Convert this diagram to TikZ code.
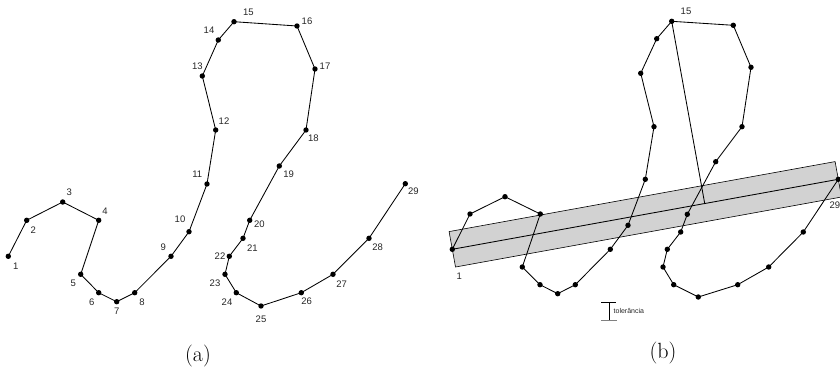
\documentclass[tikz,border=0pt]{standalone}
\usepackage{fontspec}
\newfontfamily\lblfont{Liberation Sans}
\usetikzlibrary{calc,backgrounds}
\begin{document}
\begin{tikzpicture}[x=1pt,y=-1pt,
  dot/.style={circle,fill=black,inner sep=0pt,minimum size=5.4pt},
  lbl/.style={font=\lblfont\fontsize{9.5}{11}\selectfont,inner sep=0pt,text=black!85},
  tol/.style={font=\lblfont\fontsize{7}{8}\selectfont,inner sep=0pt,text=black!85},
  poly/.style={line width=0.85pt,line join=round},
  capt/.style={font=\fontsize{22}{26}\selectfont,inner sep=0pt}]
\useasboundingbox (0,0) rectangle (840,372);
% ---------- (a) ----------
\foreach \i/\x/\y in {1/8.3/256.3,2/26.7/220.3,3/62.7/202,4/98.7/220.3,5/80.7/274.3,
  6/98.7/292.7,7/116.7/301.7,8/134.7/292.7,9/171/256.3,10/189/231.7,11/207/184,
  12/215.7/130,13/202.3/76,14/218.3/40,15/234/21.7,16/297/26,17/315/69,18/306/130,
  19/279.3/166,20/249.7/220.3,21/243/238.3,22/229.3/256.3,23/225/274.3,24/236.3/292.7,
  25/261/306,26/301.3/292.7,27/333/274.3,28/369/238.3,29/405.3/183.7}
  \node[dot] (a\i) at (\x,\y) {};
\foreach \i [remember=\i as \j (initially 1)] in {2,...,29}
  \draw[poly] (a\j.center) -- (a\i.center);
\foreach \i/\x/\y in {1/15.7/266,2/33.3/230,3/69.3/192.7,4/105/211,5/73.3/283.7,
  6/91.7/302,7/116.7/311,8/142/302,9/163.3/247.7,10/180/219.3,11/197.3/174.3,
  12/224/120.7,13/197.3/66.7,14/209/30.7,15/248.3/12.3,16/307/21.3,17/325/66.7,
  18/313.3/138.3,19/288.7/174.3,20/259.3/224.3,21/252.3/247.7,22/220/256.3,
  23/215/283.7,24/227/302,25/261/319.3,26/306.7/301.3,27/341.7/283.7,
  28/377.7/247.7,29/413.3/191}
  \node[lbl] (la\i) at (\x,\y) {\i};
% ---------- (b) ----------
\foreach \i/\x/\y in {1/452.3/249.3,2/470/214,3/505/196.7,4/540.3/214,5/522.3/267,
  6/540/284.7,7/557.7/293.7,8/575.3/284.7,9/610.3/249.3,10/628/225.3,11/645.3/179.3,
  12/654/126.7,13/640.7/73.3,14/656.7/38.7,15/671.7/21.3,16/733.3/25.3,17/751/67.3,
  18/742/126.7,19/715.7/161.7,20/687.3/214.3,21/680.7/232,22/667.3/249.3,
  23/663/267,24/673.7/284.7,25/698.3/297,26/737.7/284.7,27/768.7/267,
  28/803.3/232,29/838.3/179.3}
  \node[dot] (b\i) at (\x,\y) {};
\begin{scope}[on background layer]
  \filldraw[fill=gray!35,draw=black,line width=0.6pt]
    ($(b1)!18pt!90:(b29)$) -- ($(b29)!18pt!-90:(b1)$) --
    ($(b29)!18pt!90:(b1)$) -- ($(b1)!18pt!-90:(b29)$) -- cycle;
  \draw[poly] (b1.center) -- (b29.center);
  \coordinate (foot) at ($(b1)!(b15)!(b29)$);
  \draw[poly] (b15.center) -- (foot);
\end{scope}
\foreach \i [remember=\i as \j (initially 1)] in {2,...,29}
  \draw[poly] (b\j.center) -- (b\i.center);
\node[lbl] (lb1) at (459.3,276) {1};
\node[lbl] (lb15) at (686,11.7) {15};
\node[lbl,anchor=west] (lb29) at (829.5,205.7) {29};
% tolerance bar
\coordinate (tt) at (609,302.3);
\coordinate (tb) at (609,320.3);
\draw[line width=0.8pt] ($(tt)+(-8,0)$) -- ($(tt)+(7,0)$);
\draw[line width=0.8pt] (tt) -- (tb);
\draw[gray,line width=1.1pt] ($(tb)+(-8,0)$) -- ($(tb)+(8,0)$);
\node[tol,anchor=west] (tolt) at (613.5,310.5) {tolerância};
% captions
\node[capt] (capa) at (198,356) {(a)};
\node[capt] (capb) at (663,353) {(b)};
\end{tikzpicture}
\end{document}
